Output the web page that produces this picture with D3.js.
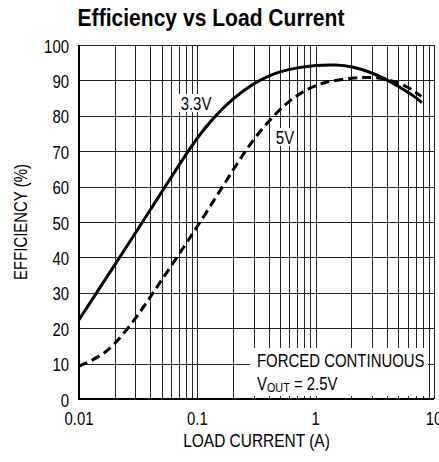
<!DOCTYPE html>
<html>
<head>
<meta charset="utf-8">
<script src="https://cdn.jsdelivr.net/npm/d3@7"></script>
<style>
  body { margin: 0; background: white; }
  text { font-family: "Liberation Sans", Arial, sans-serif; fill: black; }
</style>
</head>
<body>
<div id="chart"></div>
<script>
// values
var current33 = [0.01, 0.02, 0.03, 0.04, 0.05, 0.07, 0.1, 0.137, 0.2, 0.3, 0.4, 0.5, 0.7, 1, 1.5, 2, 3, 4, 5, 6, 7, 7.9];
var eff33 = [22.4, 37.8, 46.9, 53.4, 58.5, 66.1, 73.9, 79.5, 85.0, 89.2, 91.3, 92.5, 93.6, 94.3, 94.4, 94.0, 92.2, 90.2, 88.3, 86.7, 85.2, 83.7];

var current5 = [0.01, 0.015, 0.02, 0.03, 0.04, 0.05, 0.07, 0.1, 0.15, 0.21, 0.3, 0.44, 0.6, 0.87, 1.2, 2, 3, 4, 5, 6, 7, 7.8];
var eff5 = [9.3, 11.9, 15.3, 22.6, 28.8, 33.6, 40.9, 48.7, 58.0, 65.8, 73.6, 80.0, 84.4, 87.8, 89.6, 90.7, 91.0, 90.3, 89.3, 88.1, 86.7, 85.5];

var xTicks = [0.01, 0.1, 1, 10];
var xTickLabels = ["0.01", "0.1", "1", "10"];
var yTicks = [0, 10, 20, 30, 40, 50, 60, 70, 80, 90, 100];

var width = 439, height = 462;
var margin = {top: 45, right: 5, bottom: 63, left: 79};
var squeeze = 0.83; // the original uses a condensed face

var svg = d3.select("#chart")
  .append("svg")
    .attr("width", width)
    .attr("height", height);

var x = d3.scaleLog()
  .domain([0.01, 10])
  .range([margin.left, width - margin.right]);

var y = d3.scaleLinear()
  .domain([0, 100])
  .range([height - margin.bottom, margin.top]);

// condensed text: draw at origin and squeeze horizontally
function label(px, py, str, size, anchor, sx, rot) {
  var t = svg.append("text")
    .attr("transform", "translate(" + px + "," + py + ")" + (rot ? " rotate(" + rot + ")" : "") + " scale(" + sx + ",1)")
    .attr("text-anchor", anchor || "start")
    .style("font-size", size + "px")
    .text(str);
  return t;
}

// title, fitted to its width in the original
var title = label(211, 26, "Efficiency vs Load Current", 23, "middle", 1).style("font-weight", "bold");
var tw = title.node().getComputedTextLength();
title.attr("transform", "translate(211,26) scale(" + (267 / tw) + ",1)");

// grid: vertical lines at 1..9 of each decade
var minor = [];
[0.01, 0.1, 1].forEach(function(d) {
  for (var i = 1; i <= 9; i++) minor.push(d * i);
});
minor.push(10);

var grid = svg.append("g");
grid.selectAll("line.v")
  .data(minor)
  .enter()
  .append("line")
    .attr("class", "v")
    .attr("x1", function(d) { return Math.round(x(d)) + 0.5; })
    .attr("x2", function(d) { return Math.round(x(d)) + 0.5; })
    .attr("y1", y(100))
    .attr("y2", y(0))
    .attr("stroke", "#222")
    .attr("stroke-width", 1);

grid.selectAll("line.h")
  .data(yTicks)
  .enter()
  .append("line")
    .attr("class", "h")
    .attr("x1", x(0.01))
    .attr("x2", x(10))
    .attr("y1", function(d) { return Math.round(y(d)) + 0.5; })
    .attr("y2", function(d) { return Math.round(y(d)) + 0.5; })
    .attr("stroke", "#222")
    .attr("stroke-width", 1);

// left + bottom axis lines are heavier
svg.append("line")
  .attr("x1", x(0.01)).attr("x2", x(0.01))
  .attr("y1", y(100)).attr("y2", y(0) + 1)
  .attr("stroke", "black").attr("stroke-width", 2);
svg.append("line")
  .attr("x1", x(0.01)).attr("x2", x(10))
  .attr("y1", y(0)).attr("y2", y(0))
  .attr("stroke", "black").attr("stroke-width", 2);

// y tick labels
yTicks.forEach(function(d) {
  label(69, y(d) + 7.5, d, 18, "end", squeeze);
});

// x tick labels
xTicks.forEach(function(d, i) {
  label(x(d), 425, xTickLabels[i], 18, "middle", squeeze);
});

// axis titles
label((x(0.01) + x(10)) / 2, 447, "LOAD CURRENT (A)", 18, "middle", 0.86);
label(27, (y(0) + y(100)) / 2, "EFFICIENCY (%)", 18, "middle", squeeze, -90);

// note box in the lower right corner
svg.append("rect")
  .attr("x", 250).attr("y", 348)
  .attr("width", 178).attr("height", 48)
  .attr("fill", "white");

label(257, 367, "FORCED CONTINUOUS", 18, "start", squeeze);

var vout = label(257, 390, "", 18, "start", squeeze);
vout.append("tspan").text("V");
vout.append("tspan").attr("dy", 2).style("font-size", "13px").text("OUT");
vout.append("tspan").attr("dy", -2).text(" = 2.5V");

// curves (b-spline evens out the reading noise)
var line = d3.line()
  .x(function(d) { return x(d[0]); })
  .y(function(d) { return y(d[1]); })
  .curve(d3.curveBasis);

svg.append("path")
  .datum(d3.zip(current33, eff33))
  .attr("d", line)
  .attr("fill", "none")
  .attr("stroke", "black")
  .attr("stroke-width", 3);

svg.append("path")
  .datum(d3.zip(current5, eff5))
  .attr("d", line)
  .attr("fill", "none")
  .attr("stroke", "black")
  .attr("stroke-width", 3)
  .attr("stroke-dasharray", "9,5");

// curve labels on white
function curveLabel(cx, cy, w, txt) {
  svg.append("rect")
    .attr("x", cx - w / 2).attr("y", cy - 9)
    .attr("width", w).attr("height", 18)
    .attr("fill", "white");
  label(cx, cy + 6.5, txt, 18, "middle", squeeze);
}
curveLabel(196, 103, 36, "3.3V");
curveLabel(285, 137, 20, "5V");
</script>
</body>
</html>
